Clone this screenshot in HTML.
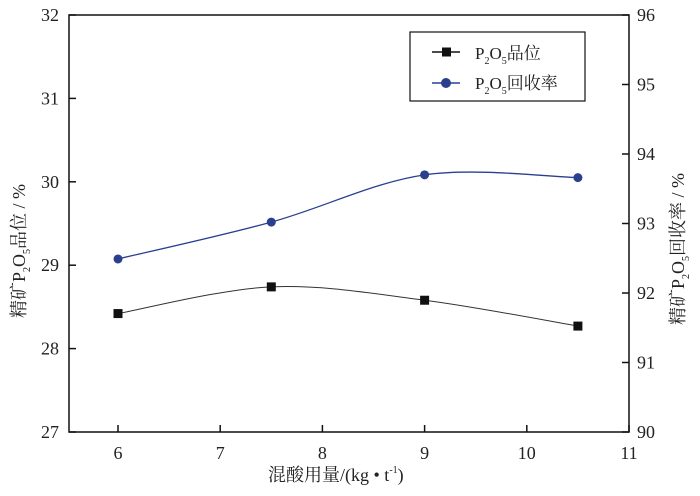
<!DOCTYPE html>
<html><head><meta charset="utf-8"><style>
body{margin:0;background:#fff}
svg text{font-family:"Liberation Serif","Noto Serif CJK SC",serif;fill:#222}
</style></head><body>
<svg id="c" width="700" height="491" xmlns="http://www.w3.org/2000/svg">
<g>
<rect x="410" y="32" width="175" height="69" fill="#fff" stroke="#111" stroke-width="1.2"/>
<line x1="432" y1="52" x2="460" y2="52" stroke="#111" stroke-width="1.5"/><rect x="442" y="47.5" width="9" height="9" fill="#111"/>
<text x="475" y="59" font-size="17">P<tspan font-size="10" dy="5">2</tspan><tspan dy="-5">O</tspan><tspan font-size="10" dy="5">5</tspan><tspan dy="-5">品位</tspan></text>
<line x1="432" y1="83" x2="460" y2="83" stroke="#2b3f8f" stroke-width="1.5"/><circle cx="446" cy="83" r="5" fill="#2b3f8f"/>
<text x="475" y="89" font-size="17">P<tspan font-size="10" dy="5">2</tspan><tspan dy="-5">O</tspan><tspan font-size="10" dy="5">5</tspan><tspan dy="-5">回收率</tspan></text>
</g>
<text x="268" y="481" font-size="18">混酸用量/(kg • t<tspan font-size="10" dy="-8">-1</tspan><tspan dy="8">)</tspan></text>
<text transform="translate(25,318) rotate(-90)" font-size="18">精矿P<tspan font-size="10" dy="5">2</tspan><tspan dy="-5">O</tspan><tspan font-size="10" dy="5">5</tspan><tspan dy="-5">品位 / %</tspan></text>
<text transform="translate(684,325) rotate(-90)" font-size="18">精矿P<tspan font-size="10" dy="5">2</tspan><tspan dy="-5">O</tspan><tspan font-size="10" dy="5">5</tspan><tspan dy="-5">回收率 / %</tspan></text>
</svg>
<script>
const categories=[6,7.5,9,10.5];
const gradeValues=[28.42,28.74,28.58,28.27];
const recoveryValues=[92.49,93.02,93.70,93.66];
const xTicks=[6,7,8,9,10,11];
const yLeftTicks=[27,28,29,30,31,32];
const yRightTicks=[90,91,92,93,94,95,96];
const L=69,R=629,T=15,B=432;
const xs=v=>118+(v-6)*102.2;
const yl=v=>B-(v-27)/5*(B-T);
const yr=v=>B-(v-90)/6*(B-T);
const svg=document.getElementById('c');const NS='http://www.w3.org/2000/svg';
function mk(t,a,p){const e=document.createElementNS(NS,t);for(const k in a)e.setAttribute(k,a[k]);(p||svg).appendChild(e);return e;}
const frame=mk('rect',{x:L,y:T,width:R-L,height:B-T,fill:'none',stroke:'#111','stroke-width':1.5});


xTicks.forEach(v=>{const x=xs(v);
 const t=mk('line',{x1:x,y1:B,x2:x,y2:B-7,stroke:'#111','stroke-width':1.5});
 
 
 const l=mk('text',{x:x,y:B+27,'text-anchor':'middle','font-size':18});l.textContent=v;
 
 });
yLeftTicks.forEach(v=>{const y=yl(v);
 const t=mk('line',{x1:L,y1:y,x2:L+7,y2:y,stroke:'#111','stroke-width':1.5});
 
 
 const l=mk('text',{x:L-10,y:y+6,'text-anchor':'end','font-size':18});l.textContent=v;
 
 });
yRightTicks.forEach(v=>{const y=yr(v);
 const t=mk('line',{x1:R,y1:y,x2:R-7,y2:y,stroke:'#111','stroke-width':1.5});
 
 
 const l=mk('text',{x:R+8,y:y+6,'text-anchor':'start','font-size':18});l.textContent=v;
 
 });
function spline(pts){let d='M'+pts[0][0]+','+pts[0][1];
 for(let i=0;i<pts.length-1;i++){const p0=pts[i-1]||pts[i],p1=pts[i],p2=pts[i+1],p3=pts[i+2]||p2;
 const c1=[p1[0]+(p2[0]-p0[0])/6,p1[1]+(p2[1]-p0[1])/6],c2=[p2[0]-(p3[0]-p1[0])/6,p2[1]-(p3[1]-p1[1])/6];
 d+=' C'+c1+' '+c2+' '+p2;}return d;}
const gp=categories.map((c,i)=>[xs(c),yl(gradeValues[i])]);
const rp=categories.map((c,i)=>[xs(c),yr(recoveryValues[i])]);
const gl=mk('path',{d:spline(gp),fill:'none',stroke:'#333','stroke-width':1});


const rl=mk('path',{d:spline(rp),fill:'none',stroke:'#2b3f8f','stroke-width':1.3});


gp.forEach(p=>{const m=mk('rect',{x:p[0]-4.5,y:p[1]-4.5,width:9,height:9,fill:'#111'});
 
 });
rp.forEach(p=>{const m=mk('circle',{cx:p[0],cy:p[1],r:4.5,fill:'#2b3f8f'});
 
 });
</script>
</body></html>
